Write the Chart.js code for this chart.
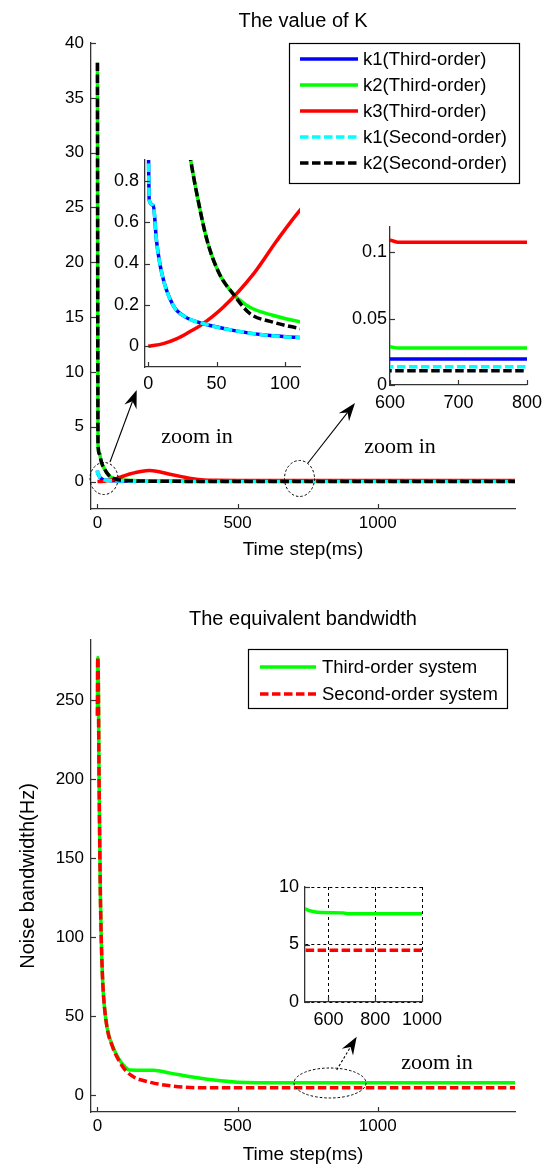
<!DOCTYPE html>
<html><head><meta charset="utf-8">
<script src="https://cdn.jsdelivr.net/npm/chart.js@4/dist/chart.umd.min.js"></script>
<style>
html,body{margin:0;padding:0;background:#fff;}
#wrap{position:relative;width:549px;height:1167px;overflow:hidden;background:#fff;}
canvas{position:absolute;left:0;top:0;width:549px;height:1167px;}
</style></head><body>
<div id="wrap">
<canvas id="cK" width="549" height="1167"></canvas>
<canvas id="cK1" width="549" height="1167"></canvas>
<canvas id="cK2" width="549" height="1167"></canvas>
<canvas id="cB" width="549" height="1167"></canvas>
<canvas id="cB1" width="549" height="1167"></canvas>
</div>
<script>
// ---------- data ----------
const titleK = 'The value of K';
const titleB = 'The equivalent bandwidth';
const xLabel = 'Time step(ms)';
const yLabelB = 'Noise bandwidth(Hz)';

const kLabels = ['k1(Third-order)','k2(Third-order)','k3(Third-order)','k1(Second-order)','k2(Second-order)'];

const stepK1_3 = [0,0.7,3.7,6,10,18,27,40,62,87,112,160,250,400,600,800,1500];
const valK1_3  = [1.0,0.705,0.68,0.51,0.35,0.2,0.142,0.11,0.077,0.053,0.042,0.032,0.025,0.021,0.0195,0.0195,0.0195];

const stepK2_3 = [0,2,8,12,18,25,31,35,43,52,62,74,91,112,150,200,300,450,600,612,800,1500];
const valK2_3  = [38.2,3.4,2.5,2.0,1.5,1.15,0.9,0.754,0.512,0.35,0.254,0.19,0.15,0.117,0.08,0.06,0.042,0.032,0.0288,0.0278,0.0278,0.0278];

const stepK3_3 = [0,11,21,30,38,55,77,94,112,135,160,185,210,250,300,340,380,420,500,600,612,800,1500];
const valK3_3  = [0,0.013,0.037,0.069,0.1,0.19,0.35,0.51,0.665,0.82,0.95,1.0,0.95,0.72,0.45,0.25,0.14,0.113,0.11,0.109,0.1075,0.1075,0.1075];

const stepK1_2 = [0,0.7,3.7,6,10,18,27,40,62,87,112,160,250,400,600,800,1500];
const valK1_2  = [1.0,0.705,0.68,0.51,0.35,0.2,0.142,0.11,0.077,0.053,0.041,0.028,0.02,0.015,0.0137,0.0137,0.0137];

const stepK2_2 = [0,2,8,12,18,25,31,35,43,52,62,74,91,112,150,200,300,450,600,800,1500];
const valK2_2  = [38.2,3.4,2.5,2.0,1.5,1.15,0.9,0.754,0.512,0.35,0.254,0.16,0.117,0.085,0.055,0.035,0.02,0.013,0.0107,0.0107,0.0107];

const bwLabels = ['Third-order system','Second-order system'];
const stepBw3 = [0,1,3,5.7,10.6,14,18,22,34,55,79,103,115,200,260,350,440,500,571,663,680,1500];
const valBw3  = [240,277,265,201,125,96,75,62,43,30.6,22,17,15.8,15.6,13.8,11,9,8.1,7.78,7.75,7.68,7.68];
const stepBw2 = [0,1,3,5.7,10.6,14,18,22,34,55,79,103,136,150,200,260,348,400,1500];
const valBw2  = [240,277,265,201,125,96,75,62,43,30,21,15,10.7,9.8,7.5,5.8,4.6,4.5,4.5];

// tick values / labels
const tickMainX = [0,500,1000];          const labMainX = ['0','500','1000'];
const tickKY = [0,5,10,15,20,25,30,35,40]; const labKY = ['0','5','10','15','20','25','30','35','40'];
const tickK1X = [0,50,100];              const labK1X = ['0','50','100'];
const tickK1Y = [0,0.2,0.4,0.6,0.8];     const labK1Y = ['0','0.2','0.4','0.6','0.8'];
const tickK2X = [600,700,800];           const labK2X = ['600','700','800'];
const tickK2Y = [0,0.05,0.1];            const labK2Y = ['0','0.05','0.1'];
const tickBY = [0,50,100,150,200,250];   const labBY = ['0','50','100','150','200','250'];
const tickB1X = [600,800,1000];          const labB1X = ['600','800','1000'];
const tickB1Y = [0,5,10];                const labB1Y = ['0','5','10'];

// ---------- styling ----------
const FONT = '"Liberation Sans", Arial, Helvetica, sans-serif';
const W = 549, H = 1167;
const DASH = [8.5,3.5];
const kStyles = [
  {color:'#0000ff', dash:[], order:5},
  {color:'#00ff00', dash:[], order:4},
  {color:'#ff0000', dash:[], order:3},
  {color:'#00ffff', dash:DASH, order:2},
  {color:'#000000', dash:DASH, order:1}
];
const bwStyles = [
  {color:'#00ff00', dash:[], order:2},
  {color:'#ff0000', dash:DASH, order:1}
];

Chart.defaults.font.family = FONT;
Chart.defaults.color = '#000';

function series(label, steps, vals, st) {
  return {
    label, data: steps.map((t,i)=>({x:t, y:vals[i]})),
    borderColor: st.color, backgroundColor: st.color, borderWidth: 3.5,
    borderDash: st.dash, pointRadius: 0, pointHoverRadius: 0, fill: false,
    cubicInterpolationMode: 'monotone',
    order: st.order, borderCapStyle: 'butt', borderJoinStyle: 'round'
  };
}
function kDatasets() {
  const s = [[stepK1_3,valK1_3],[stepK2_3,valK2_3],[stepK3_3,valK3_3],[stepK1_2,valK1_2],[stepK2_2,valK2_2]];
  return s.map((p,i)=>series(kLabels[i], p[0], p[1], kStyles[i]));
}
function bwDatasets() {
  const s = [[stepBw3,valBw3],[stepBw2,valBw2]];
  return s.map((p,i)=>series(bwLabels[i], p[0], p[1], bwStyles[i]));
}

function mkScale(o) {
  return {
    type: 'linear', position: o.pos, min: o.min, max: o.max,
    afterBuildTicks: s => { s.ticks = o.ticks.map(v=>({value:v})); },
    afterFit: s => { if (o.pos === 'bottom') s.height = o.size; else s.width = o.size; },
    ticks: {autoSkip:false, maxRotation:0, minRotation:0, padding:o.pad, color:'#000',
            font:{family:FONT, size:o.font}, callback:(v,i)=>o.labels[i]},
    grid: o.grid ? {display:true, drawTicks:false, color:'#000', lineWidth:1}
                 : {display:false, drawTicks:false},
    border: {display:true, color:'#333', width:1.3, dash: o.grid ? [3,3] : []},
    title: o.title ? {display:true, text:o.title, color:'#000', font:{family:FONT, size:o.titleSize || 19}, padding:0}
                   : {display:false}
  };
}

// inward tick marks
const innerTicks = {
  id: 'innerTicks',
  afterDatasetsDraw(chart) {
    const ctx = chart.ctx, a = chart.chartArea, len = 5;
    ctx.save();
    ctx.strokeStyle = '#333'; ctx.lineWidth = 1.2;
    const xs = chart.scales.x, ys = chart.scales.y;
    xs.ticks.forEach(t => {
      const px = Math.round(xs.getPixelForValue(t.value)) + 0.5;
      ctx.beginPath(); ctx.moveTo(px, a.bottom); ctx.lineTo(px, a.bottom - len); ctx.stroke();
    });
    ys.ticks.forEach(t => {
      const py = Math.round(ys.getPixelForValue(t.value)) + 0.5;
      ctx.beginPath(); ctx.moveTo(a.left, py); ctx.lineTo(a.left + len, py); ctx.stroke();
    });
    ctx.restore();
  }
};

// boxed legend built from the datasets
const boxLegend = {
  id: 'boxLegend',
  afterDraw(chart, args, o) {
    if (!o || !o.box) return;
    const ctx = chart.ctx;
    const [x1,y1,x2,y2] = o.box;
    ctx.save();
    ctx.fillStyle = '#fff'; ctx.fillRect(x1, y1, x2-x1, y2-y1);
    ctx.strokeStyle = '#000'; ctx.lineWidth = 1.2; ctx.strokeRect(x1+0.5, y1+0.5, x2-x1, y2-y1);
    ctx.font = o.fontSize + 'px ' + FONT; ctx.textBaseline = 'middle'; ctx.textAlign = 'left';
    chart.data.datasets.forEach((ds, i) => {
      const y = o.y0 + i * o.dy;
      ctx.save();
      ctx.strokeStyle = ds.borderColor; ctx.lineWidth = ds.borderWidth; ctx.setLineDash(ds.borderDash || []);
      ctx.beginPath(); ctx.moveTo(o.lx0, y); ctx.lineTo(o.lx1, y); ctx.stroke();
      ctx.restore();
      ctx.fillStyle = '#000';
      ctx.fillText(ds.label, o.tx, y + 1);
    });
    ctx.restore();
  }
};

// zoom annotations
function arrowHead(ctx, x1, y1, x2, y2, L, Wd, N) {
  const dx = x2-x1, dy = y2-y1, d = Math.hypot(dx,dy), ux = dx/d, uy = dy/d, nx = -uy, ny = ux;
  ctx.beginPath();
  ctx.moveTo(x2, y2);
  ctx.lineTo(x2 - ux*L + nx*Wd, y2 - uy*L + ny*Wd);
  ctx.lineTo(x2 - ux*(L-N), y2 - uy*(L-N));
  ctx.lineTo(x2 - ux*L - nx*Wd, y2 - uy*L - ny*Wd);
  ctx.closePath(); ctx.fill();
}
const notes = {
  id: 'notes',
  afterDraw(chart, args, o) {
    if (!o || !o.items) return;
    const ctx = chart.ctx;
    ctx.save();
    ctx.strokeStyle = '#000'; ctx.fillStyle = '#000';
    o.items.forEach(it => {
      if (it.type === 'ellipse') {
        ctx.save(); ctx.lineWidth = 1; ctx.setLineDash([2.5,2]);
        ctx.beginPath(); ctx.ellipse(it.cx, it.cy, it.rx, it.ry, 0, 0, Math.PI*2); ctx.stroke();
        ctx.restore();
      } else if (it.type === 'arrow') {
        const dx = it.x2-it.x1, dy = it.y2-it.y1, d = Math.hypot(dx,dy);
        ctx.save(); ctx.lineWidth = 1.1; ctx.setLineDash(it.dash || []);
        ctx.beginPath(); ctx.moveTo(it.x1, it.y1);
        ctx.lineTo(it.x2 - dx/d*12, it.y2 - dy/d*12); ctx.stroke();
        ctx.restore();
        arrowHead(ctx, it.x1, it.y1, it.x2, it.y2, 18, 6.5, 6);
      } else if (it.type === 'text') {
        ctx.font = '22px "Liberation Serif", "Times New Roman", serif';
        ctx.textAlign = 'center'; ctx.textBaseline = 'alphabetic';
        ctx.fillText(it.text, it.x, it.y);
      }
    });
    ctx.restore();
  }
};

function mkChart(id, area, sx, sy, datasets, opts) {
  opts = opts || {};
  const pad = {
    left: area.l - sy.size,
    top: area.t - (opts.titleH || 0),
    right: W - area.r,
    bottom: H - area.b - sx.size
  };
  return new Chart(document.getElementById(id), {
    type: 'line',
    data: {datasets},
    options: {
      responsive: false, animation: false, events: [],
      layout: {padding: pad},
      scales: {x: mkScale(sx), y: mkScale(sy)},
      plugins: {
        legend: {display:false}, tooltip: {enabled:false},
        title: opts.title ? {display:true, text:opts.title, fullSize:false, color:'#000',
               font:{family:FONT, size:20, weight:'normal'}, padding:{top:9, bottom:opts.titlePadB}} : {display:false},
        boxLegend: opts.legend || {},
        notes: opts.notes || {}
      }
    },
    plugins: [innerTicks, boxLegend, notes]
  });
}

// ---------- top: The value of K ----------
mkChart('cK', {l:91, t:43, r:515, b:509},
  {pos:'bottom', min:-23, max:1490, ticks:tickMainX, labels:labMainX, font:17, pad:4, size:52.4, title:xLabel},
  {pos:'left', min:-2.5, max:40, ticks:tickKY, labels:labKY, font:17, pad:7, size:60},
  kDatasets(),
  {title:titleK, titleH:43, titlePadB:10,
   legend:{box:[289,43,519,183], y0:59, dy:26, lx0:300, lx1:358, tx:363, fontSize:18.5},
   notes:{items:[
     {type:'ellipse', cx:104, cy:478.5, rx:14, ry:16},
     {type:'ellipse', cx:299.5, cy:478.5, rx:15, ry:18},
     {type:'arrow', x1:110, y1:462, x2:136.7, y2:390},
     {type:'arrow', x1:308, y1:463, x2:355, y2:403},
     {type:'text', text:'zoom in', x:197, y:443},
     {type:'text', text:'zoom in', x:400, y:453}
   ]}});

mkChart('cK1', {l:145, t:160, r:300, b:367},
  {pos:'bottom', min:-2.4, max:111, ticks:tickK1X, labels:labK1X, font:18, pad:6, size:30},
  {pos:'left', min:-0.1, max:0.9, ticks:tickK1Y, labels:labK1Y, font:18, pad:6, size:40},
  kDatasets());

mkChart('cK2', {l:390, t:227, r:527, b:385},
  {pos:'bottom', min:600, max:800, ticks:tickK2X, labels:labK2X, font:18, pad:7, size:30},
  {pos:'left', min:0, max:0.119, ticks:tickK2Y, labels:labK2Y, font:18, pad:3, size:45},
  kDatasets());

// ---------- bottom: The equivalent bandwidth ----------
mkChart('cB', {l:91, t:640, r:515, b:1112},
  {pos:'bottom', min:-23, max:1490, ticks:tickMainX, labels:labMainX, font:17, pad:4.5, size:54.4, title:xLabel},
  {pos:'left', min:-10.8, max:288, ticks:tickBY, labels:labBY, font:17, pad:7, size:75, title:yLabelB, titleSize:20},
  bwDatasets(),
  {title:titleB, titleH:42, titlePadB:9,
   legend:{box:[248,649,507,708], y0:667, dy:27, lx0:260, lx1:316, tx:322, fontSize:18.5},
   notes:{items:[
     {type:'ellipse', cx:330, cy:1083, rx:36, ry:15},
     {type:'arrow', x1:336.7, y1:1070, x2:356.7, y2:1036.7, dash:[2.5,2]},
     {type:'text', text:'zoom in', x:437, y:1069}
   ]}});

mkChart('cB1', {l:305, t:887, r:422, b:1002},
  {pos:'bottom', min:500, max:1000, ticks:tickB1X, labels:labB1X, font:18, pad:7, size:30, grid:true},
  {pos:'left', min:0, max:10, ticks:tickB1Y, labels:labB1Y, font:18, pad:6, size:40, grid:true},
  bwDatasets());
</script>
</body></html>
